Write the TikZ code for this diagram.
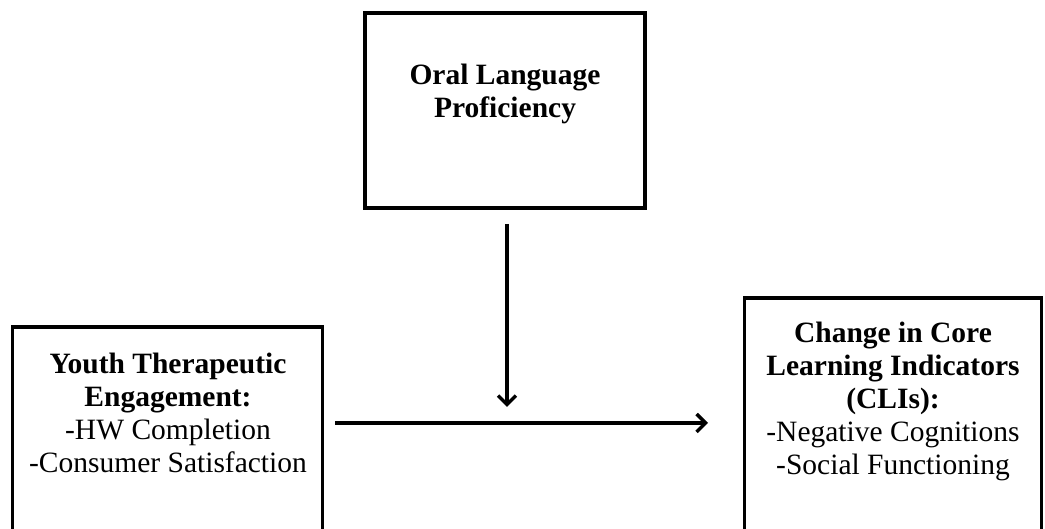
\documentclass[tikz,border=0pt]{standalone}
\usepackage{fontspec}
\setmainfont{Liberation Serif}
\usetikzlibrary{arrows.meta}
\begin{document}
\begin{tikzpicture}[x=1pt,y=1pt,
  box/.style={draw=black,line width=3.2pt,minimum width=#1,inner sep=0pt},
  txt/.style={align=center,inner sep=0pt,anchor=north,font=\fontsize{29.5}{33}\selectfont},
  conn/.style={line width=3.4pt,-{Straight Barb[length=9pt,width=18pt]}}]
\useasboundingbox (0,0) rectangle (1045,529);
% boxes
\node[box=310pt,minimum height=222pt] (yte) at (167.5,91) {};
\node[box=280pt,minimum height=195pt] (olp) at (505,418.5) {};
\node[box=297pt,minimum height=251pt] (cli) at (893,105.5) {};
% texts
\node[txt] (olpt) at (505,465) {\textbf{Oral Language}\\\textbf{Proficiency}};
\node[txt] (ytet) at (168,176) {\textbf{Youth Therapeutic}\\\textbf{Engagement:}\\-HW Completion\\-Consumer Satisfaction};
\node[txt] (clit) at (893,207) {\textbf{Change in Core}\\\textbf{Learning Indicators}\\\textbf{(CLIs):}\\-Negative Cognitions\\-Social Functioning};
% connectors
\coordinate (vs) at (507,305);
\coordinate (ve) at (507,122);
\coordinate (hs) at (335,106);
\coordinate (he) at (708,106);
\draw[conn] (vs) -- (ve);
\draw[conn] (hs) -- (he);
\end{tikzpicture}
\end{document}
